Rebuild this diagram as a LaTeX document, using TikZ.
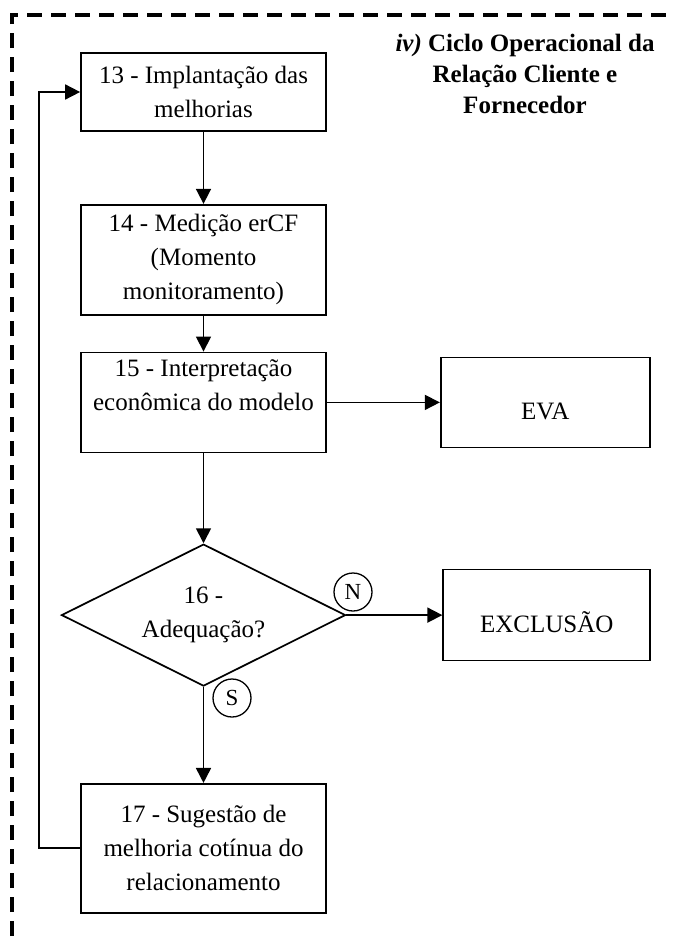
\documentclass[tikz,border=0pt]{standalone}
\usepackage{fontspec}
\setmainfont{Liberation Serif}
\usetikzlibrary{positioning, shapes.geometric, arrows.meta}

\begin{document}
\begin{tikzpicture}[
            x=1pt, y=-1pt,
            font=\fontsize{25}{34}\selectfont,
            etapa/.style={draw, line width=1.7pt, minimum width=245pt, align=center, inner sep=2pt},
            decisao/.style={draw, diamond, aspect=2, line width=1.7pt, minimum width=284pt, minimum height=142pt, align=center, inner sep=0pt},
            saida/.style={draw, line width=1.7pt, align=center, text height=35pt, text depth=0pt},
            marca/.style={draw, circle, line width=1.3pt, minimum size=38pt, inner sep=0pt, font=\fontsize{23}{23}\selectfont},
            seta/.style={line width=1.7pt, -{Triangle[length=15pt, width=15pt]}}
        ]

        \useasboundingbox (0,0) rectangle (674,945);

        % dashed frame (only top and left edges are seen)
        \draw[line width=4pt, dash pattern=on 15pt off 9pt] (12,960) -- (12,15) -- (690,15);

        % title
        \node[font=\fontsize{25}{31}\selectfont\bfseries, align=center] (titulo) at (525,74)
            {\textit{iv)} Ciclo Operacional da\\ Relação Cliente e\\ Fornecedor};

        % main column
        \node[etapa, minimum height=78pt] (e13) at (203.5,92) {13 - Implantação das\\ melhorias};
        \node[etapa, minimum height=110pt, below=72pt of e13] (e14) {14 - Medição erCF\\ (Momento\\ monitoramento)};
        \node[etapa, minimum height=100pt, below=36pt of e14] (e15) {15 - Interpretação\\ econômica do modelo\\ ~};
        \node[decisao, below=90pt of e15] (d16) {16 -\\ Adequação?};
        \node[etapa, minimum height=129pt, below=96pt of d16] (e17) {17 - Sugestão de\\ melhoria cotínua do\\ relacionamento};

        % outputs on the right
        \node[saida, minimum width=209pt, minimum height=90pt, right=113pt of e15] (eva) {EVA};
        \node[saida, minimum width=207pt, minimum height=91pt, right=96pt of d16] (exclusao) {EXCLUSÃO};

        % answer marks
        \node[marca] (nao) at (353,592) {N};
        \node[marca] (sim) at (232,698) {S};

        % connectors
        \draw[seta] (e13) -- (e14);
        \draw[seta] (e14) -- (e15);
        \draw[seta] (e15) -- (d16);
        \draw[seta] (e15) -- (eva);
        \draw[seta] (d16) -- (exclusao);
        \draw[seta] (d16) -- (e17);
        \draw[seta] (e17.west) -- ++(-41,0) |- (e13.west); % back to 13

    \end{tikzpicture}
\end{document}
